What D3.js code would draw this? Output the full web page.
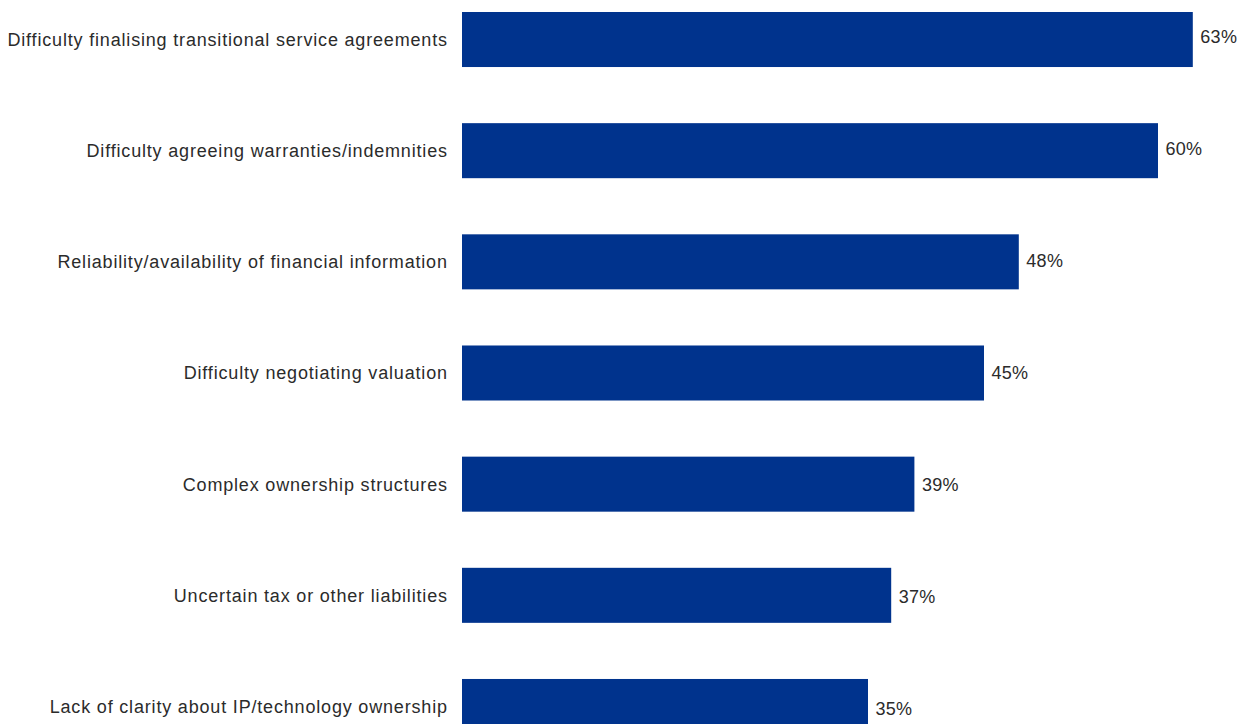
<!DOCTYPE html>
<html>
<head>
<meta charset="utf-8">
<script src="https://cdn.jsdelivr.net/npm/d3@7"></script>
<style>
  html, body { margin: 0; padding: 0; background: #fff; overflow: hidden; }
  svg { display: block; }
  text { font-family: Arial, "Liberation Sans", sans-serif; font-size: 18px; fill: #2b2b2b; }
  text.cat { letter-spacing: 0.82px; }
  text.val { letter-spacing: 0.3px; }
</style>
</head>
<body>
<svg id="chart" width="1243" height="724"></svg>
<script>
const categories = [
  "Difficulty finalising transitional service agreements",
  "Difficulty agreeing warranties/indemnities",
  "Reliability/availability of financial information",
  "Difficulty negotiating valuation",
  "Complex ownership structures",
  "Uncertain tax or other liabilities",
  "Lack of clarity about IP/technology ownership"
];
const values = [63, 60, 48, 45, 39, 37, 35];
const valueLabels = ["63%", "60%", "48%", "45%", "39%", "37%", "35%"];

const svg = d3.select("#chart");
const x = d3.scaleLinear().domain([0, 100]).range([462, 1622]);
const y = d3.scaleBand().domain(categories).range([12, 734]).paddingInner(0.505).paddingOuter(0).align(0);
// value labels sit on a slightly wider spacing than the bars in the reference
const yLabel = d3.scalePoint().domain(categories).range([36.5, 709]);

const data = categories.map((c, i) => ({ c, v: values[i], l: valueLabels[i] }));

svg.selectAll("rect.bar").data(data).join("rect")
  .attr("class", "bar")
  .attr("x", x(0))
  .attr("y", d => y(d.c))
  .attr("width", d => x(d.v) - x(0))
  .attr("height", y.bandwidth())
  .attr("fill", "#00338D");

svg.selectAll("text.cat").data(data).join("text")
  .attr("class", "cat")
  .attr("x", x(0) - 14.2)
  .attr("y", d => y(d.c) + y.bandwidth() / 2)
  .attr("dy", "0.36em")
  .attr("text-anchor", "end")
  .text(d => d.c);

svg.selectAll("text.val").data(data).join("text")
  .attr("class", "val")
  .attr("x", d => x(d.v) + 7.5)
  .attr("y", d => yLabel(d.c))
  .attr("dy", "0.36em")
  .text(d => d.l);
</script>
</body>
</html>
